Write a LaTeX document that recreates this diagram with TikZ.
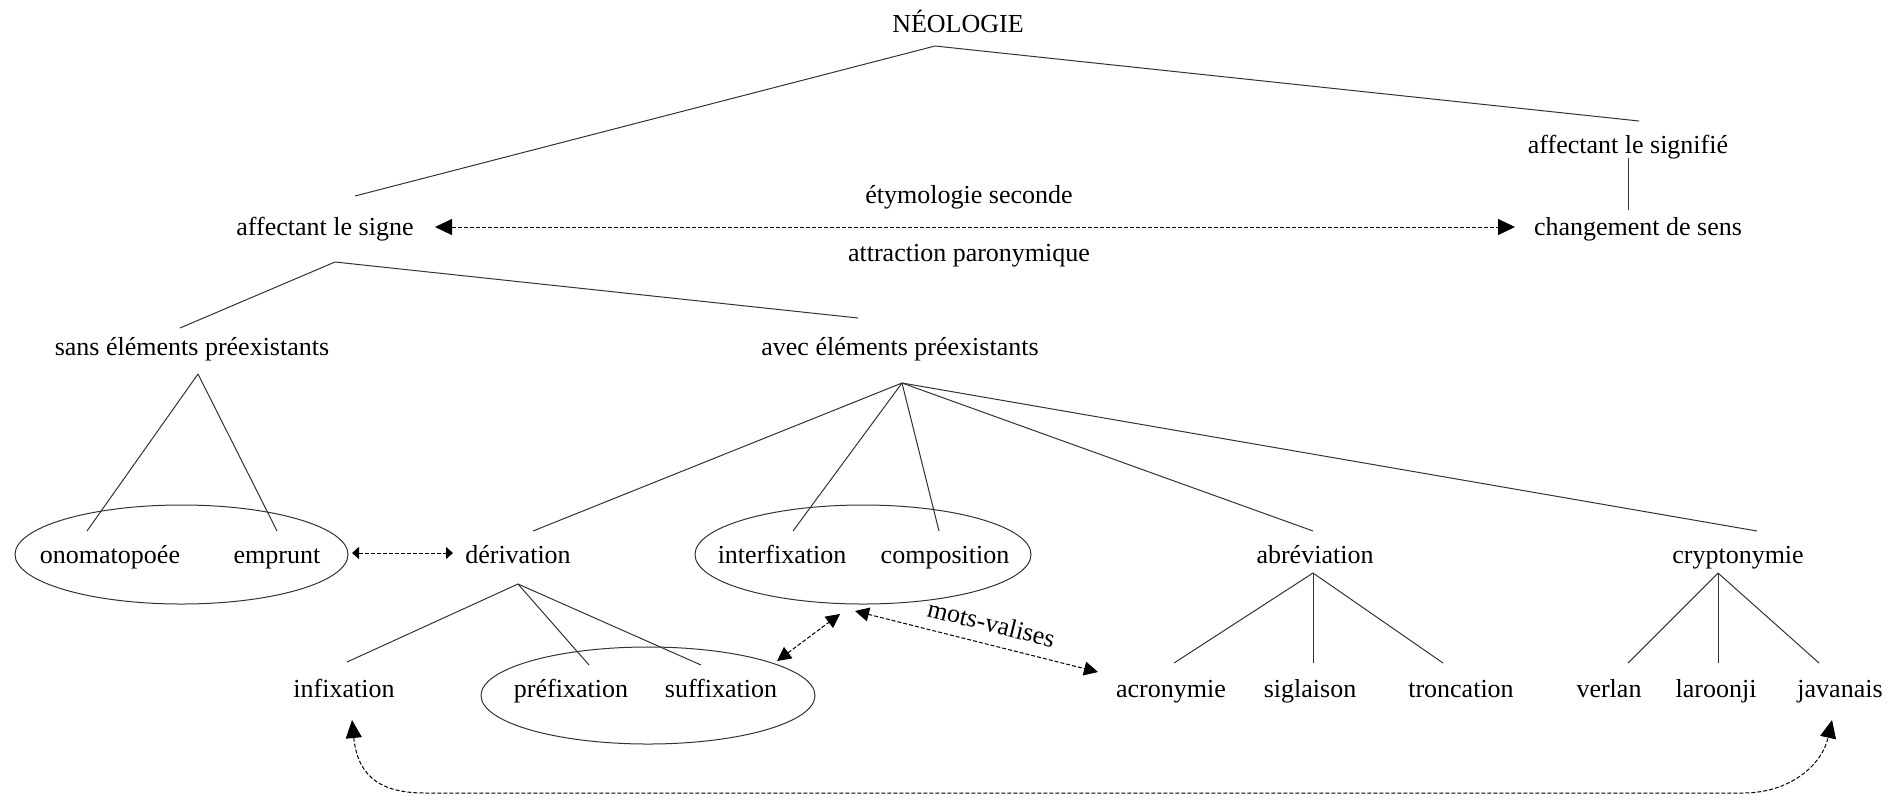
\documentclass[tikz,border=0pt]{standalone}
\usepackage{fontspec}
\setmainfont{Liberation Serif}
\usetikzlibrary{arrows.meta}
\begin{document}
\begin{tikzpicture}[x=0.5pt,y=-0.5pt,
  lbl/.style={font=\fontsize{13}{15}\selectfont, inner sep=1pt, text height=9pt, text depth=3pt},
  branch/.style={draw=black!80, line width=0.5pt},
  oval/.style={draw=black!80, line width=0.5pt},
  link/.style={draw=black, line width=0.5pt, dash pattern=on 2pt off 1pt},
  bigtips/.style={{Triangle[length=8.5pt,width=8pt]}-{Triangle[length=8.5pt,width=8pt]}},
  midtips/.style={{Triangle[length=7pt,width=7pt]}-{Triangle[length=7pt,width=7pt]}},
  smalltips/.style={{Triangle[length=3.5pt,width=6pt]}-{Triangle[length=3.5pt,width=6pt]}},
  curvetips/.style={{Triangle[length=9pt,width=8pt]}-{Triangle[length=9pt,width=8pt]}}
]
\useasboundingbox (0,0) rectangle (1904,799);

% ovals
\draw[oval] (181.5,554.5) ellipse [x radius=83.25pt, y radius=24.75pt];
\draw[oval] (863,554.5) ellipse [x radius=84pt, y radius=24.75pt];
\draw[oval] (648,695.5) ellipse [x radius=83.5pt, y radius=24.25pt];

% labels
\node[lbl] (neo) at (958,26) {NÉOLOGIE};
\node[lbl] (signifie) at (1628,147) {affectant le signifié};
\node[lbl] (signe) at (325,229) {affectant le signe};
\node[lbl] (chg) at (1638,229) {changement de sens};
\node[lbl] (ety) at (969,197) {étymologie seconde};
\node[lbl] (attr) at (969,255) {attraction paronymique};
\node[lbl] (sans) at (192,349) {sans éléments préexistants};
\node[lbl] (avec) at (900,349) {avec éléments préexistants};
\node[lbl] (ono) at (110,557) {onomatopoée};
\node[lbl] (emp) at (277,557) {emprunt};
\node[lbl] (der) at (518,557) {dérivation};
\node[lbl] (inter) at (782,557) {interfixation};
\node[lbl] (comp) at (945,557) {composition};
\node[lbl] (abr) at (1315,557) {abréviation};
\node[lbl] (cry) at (1738,557) {cryptonymie};
\node[lbl] (inf) at (344,691) {infixation};
\node[lbl] (pre) at (571,691) {préfixation};
\node[lbl] (suf) at (721,691) {suffixation};
\node[lbl] (acr) at (1171,691) {acronymie};
\node[lbl] (sig) at (1310,691) {siglaison};
\node[lbl] (tro) at (1461,691) {troncation};
\node[lbl] (ver) at (1609,691) {verlan};
\node[lbl] (lar) at (1716,691) {laroonji};
\node[lbl] (jav) at (1840,691) {javanais};

% branch end points
\coordinate (neo-b) at (935,46);
\coordinate (signe-t) at (355,196);
\coordinate (signifie-t) at (1639,121);
\coordinate (signifie-b) at (1628,158);
\coordinate (chg-t) at (1628,210);
\coordinate (signe-b) at (335,262);
\coordinate (sans-t) at (180,328);
\coordinate (sans-b) at (198,374);
\coordinate (avec-t) at (858,318);
\coordinate (avec-b) at (902,383);
\coordinate (ono-t) at (87,531);
\coordinate (emp-t) at (277,531);
\coordinate (der-t) at (533,531);
\coordinate (der-b) at (518,584);
\coordinate (inter-t) at (793,531);
\coordinate (comp-t) at (939,531);
\coordinate (abr-t) at (1313,531);
\coordinate (abr-b) at (1313,573);
\coordinate (cry-t) at (1757,531);
\coordinate (cry-b) at (1718,573);
\coordinate (inf-t) at (347,662);
\coordinate (pre-t) at (589,665);
\coordinate (suf-t) at (701,665);
\coordinate (acr-t) at (1174,663);
\coordinate (sig-t) at (1313,663);
\coordinate (tro-t) at (1443,663);
\coordinate (ver-t) at (1628,663);
\coordinate (lar-t) at (1718,663);
\coordinate (jav-t) at (1819,663);

% branches
\draw[branch] (neo-b) -- (signe-t);
\draw[branch] (neo-b) -- (signifie-t);
\draw[branch] (signifie-b) -- (chg-t);
\draw[branch] (signe-b) -- (sans-t);
\draw[branch] (signe-b) -- (avec-t);
\draw[branch] (sans-b) -- (ono-t);
\draw[branch] (sans-b) -- (emp-t);
\draw[branch] (avec-b) -- (der-t);
\draw[branch] (avec-b) -- (inter-t);
\draw[branch] (avec-b) -- (comp-t);
\draw[branch] (avec-b) -- (abr-t);
\draw[branch] (avec-b) -- (cry-t);
\draw[branch] (der-b) -- (inf-t);
\draw[branch] (der-b) -- (pre-t);
\draw[branch] (der-b) -- (suf-t);
\draw[branch] (abr-b) -- (acr-t);
\draw[branch] (abr-b) -- (sig-t);
\draw[branch] (abr-b) -- (tro-t);
\draw[branch] (cry-b) -- (ver-t);
\draw[branch] (cry-b) -- (lar-t);
\draw[branch] (cry-b) -- (jav-t);

% links
\coordinate (l1a) at (435,227);
\coordinate (l1b) at (1515,227);
\draw[link, bigtips] (l1a) -- (l1b);

\coordinate (l2a) at (352,553);
\coordinate (l2b) at (453,553);
\draw[link, smalltips] (l2a) -- (l2b);

\coordinate (l3a) at (777,661);
\coordinate (l3b) at (840,614);
\draw[link, midtips] (l3a) -- (l3b);

\coordinate (l4a) at (855,611);
\coordinate (l4b) at (1098,672);
\draw[link, midtips] (l4a) -- node[lbl, sloped, above=2pt, pos=0.54] (mv) {mots-valises} (l4b);

\coordinate (l5a) at (352,720);
\coordinate (l5b) at (1832,720);
\draw[link, curvetips] (l5a) .. controls (358,780) and (385,793) .. (425,793)
  -- (1743,793) .. controls (1790,793) and (1822,765) .. (l5b);
\end{tikzpicture}
\end{document}
